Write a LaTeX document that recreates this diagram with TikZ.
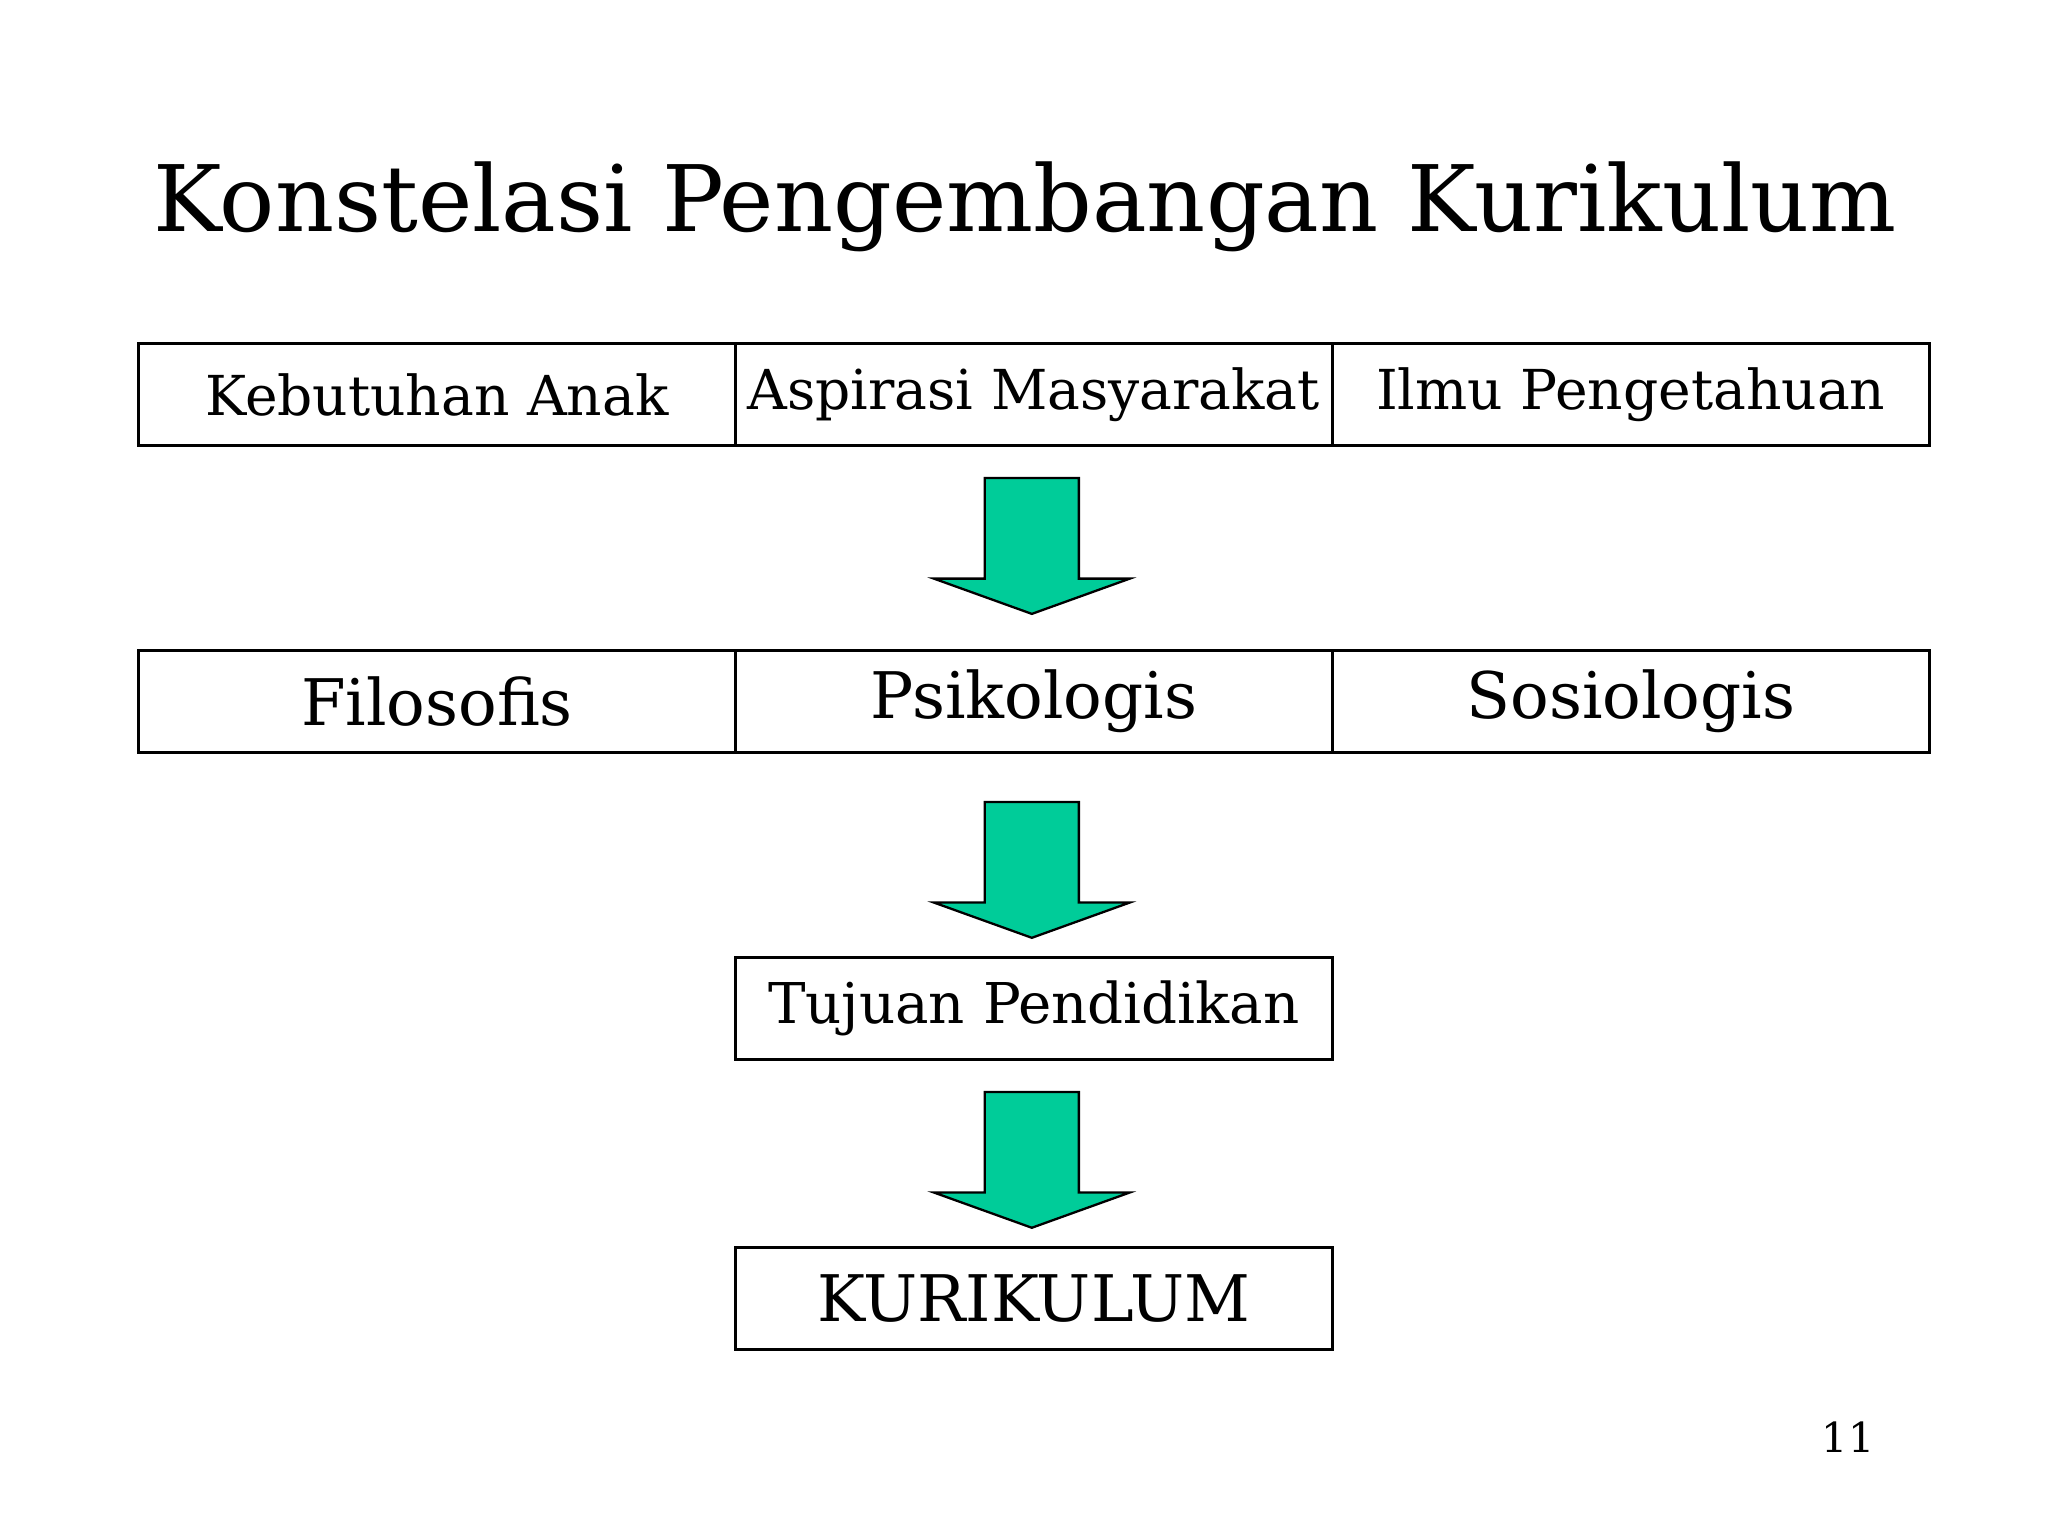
\documentclass[tikz,border=0pt]{standalone}
\usepackage{fontspec}
\setmainfont{DejaVu Serif}
\begin{document}
\begin{tikzpicture}[x=0.02cm,y=-0.02cm,
  bx/.style={draw,line width=1.2pt,minimum width=457*0.02cm,minimum height=78*0.02cm,inner sep=0pt,anchor=north west},
  arr/.style={draw,line width=1pt,fill={rgb,255:red,0;green,204;blue,153}}]
\useasboundingbox (0,0) rectangle (1568,1176);
\node (t) at (785,158) {\fontsize{40}{48}\selectfont Konstelasi Pengembangan Kurikulum};
\node[bx] (k) at (105,262) {\fontsize{24}{30}\selectfont Kebutuhan Anak};
\node[bx] (a) at (562,262) {\fontsize{24}{30}\selectfont Aspirasi Masyarakat};
\node[bx] (i) at (1019,262) {\fontsize{24}{30}\selectfont Ilmu Pengetahuan};
\node[bx] (f) at (105,497) {\fontsize{28}{34}\selectfont Filosofis};
\node[bx] (p) at (562,497) {\fontsize{28}{34}\selectfont Psikologis};
\node[bx] (s) at (1019,497) {\fontsize{28}{34}\selectfont Sosiologis};
\node[bx] (tp) at (562,732) {\fontsize{24.5}{30}\selectfont Tujuan Pendidikan};
\node[bx] (ku) at (562,954) {\fontsize{28}{34}\selectfont KURIKULUM};
\node (n) at (1415,1100) {\fontsize{18}{22}\selectfont 11};
\foreach \t/\h in {366/443,614/691,836/913}{
  \draw[arr] (754,\t) -- (826,\t) -- (826,\h) -- (865,\h) -- (790,\h+27) -- (715,\h) -- (754,\h) -- cycle;
}
\end{tikzpicture}
\end{document}
